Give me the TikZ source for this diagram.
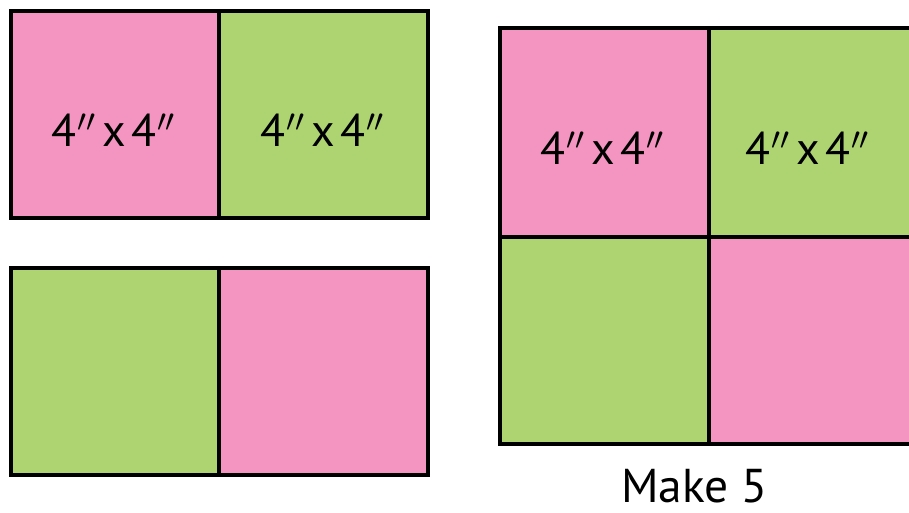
\documentclass[tikz,border=0pt]{standalone}
\usepackage{fontspec}
\setmainfont{PT Sans}
\usepackage{tkz-euclide}
\definecolor{quiltpink}{HTML}{F395C0}
\definecolor{quiltgreen}{HTML}{AED472}
\newcommand{\inch}{\kern0.3pt$''$}
\tikzset{pinksq/.style={fill=quiltpink,draw=black,line width=1.1pt},
         greensq/.style={fill=quiltgreen,draw=black,line width=1.1pt},
         sizelabel/.style={font=\fontsize{13}{15}\selectfont}}
\begin{document}
\begin{tikzpicture}[x=0.01cm,y=0.01cm]
\useasboundingbox (0,0) rectangle (909,512);
\clip (0,0) rectangle (909,512);
\tkzDefPoints{11/501/A,219/501/B,428/501/C,11/294/D,219/294/E,428/294/F} % top pair
\tkzDefPoints{11/244/G,219/244/H,428/244/I,11/37/J,219/37/K,428/37/L} % bottom pair
\tkzDefPoints{500/484/M,709/484/N,918/484/O,500/275/P,709/275/Q,918/275/R,500/68/S,709/68/T,918/68/U} % four-patch

\filldraw[pinksq] (D) rectangle (B);
\filldraw[greensq] (E) rectangle (C);
\filldraw[greensq] (J) rectangle (H);
\filldraw[pinksq] (K) rectangle (I);

\filldraw[pinksq] (P) rectangle (N);
\filldraw[greensq] (Q) rectangle (O);
\filldraw[greensq] (S) rectangle (Q);
\filldraw[pinksq] (T) rectangle (R);

\node[sizelabel] (lblA) at (114,382) {4\inch\kern1.5pt x\kern1.5pt 4\inch};
\node[sizelabel] (lblB) at (323,382) {4\inch\kern1.5pt x\kern1.5pt 4\inch};
\node[sizelabel] (lblM) at (603,364) {4\inch\kern1.5pt x\kern1.5pt 4\inch};
\node[sizelabel] (lblN) at (808,364) {4\inch\kern1.5pt x\kern1.5pt 4\inch};

\node[font=\fontsize{13.5}{16}\selectfont] (make) at (694,26) {Make 5};
\end{tikzpicture}
\end{document}
